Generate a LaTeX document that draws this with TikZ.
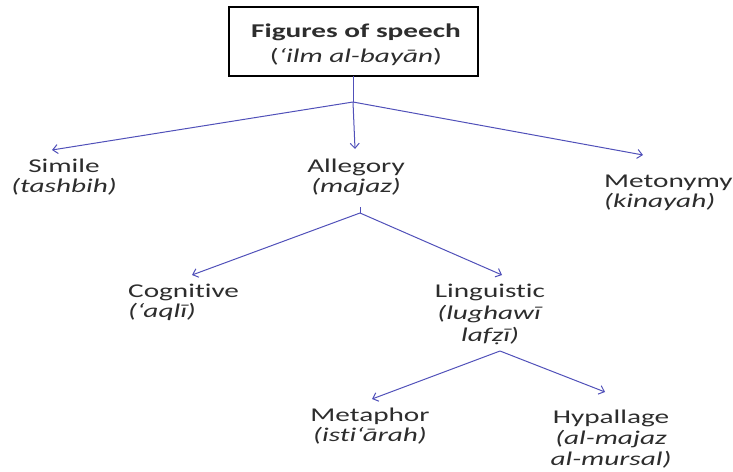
\documentclass[tikz,border=0pt]{standalone}
\usepackage{fontspec}
\setmainfont{Carlito}[FakeStretch=1.5,Ligatures={TeX,NoCommon}]
\usetikzlibrary{arrows.meta}
\definecolor{arr}{RGB}{80,80,185}
\definecolor{txt}{RGB}{45,45,45}
\begin{document}
\begin{tikzpicture}[x=1pt,y=-1pt,
  lbl/.style={align=center,anchor=base,inner sep=0pt,text=txt,font=\fontsize{19.5}{20}\selectfont},
  conn/.style={draw=arr,line width=1pt,-{Straight Barb[length=5pt,width=9pt]}},
  seg/.style={draw=arr,line width=1pt}]
\useasboundingbox (0,0) rectangle (733,471);
\draw[line width=1.3pt] (229,7) rectangle (478,76);
\node[lbl,font=\fontsize{19.5}{25}\selectfont] (fig) at (356,62)
  {\textbf{Figures of speech}\\(\textit{‘ilm al-bayān})};
\node[lbl] (sim) at (64,192) {Simile\\\textit{(tashbih)}};
\node[lbl] (all) at (356,192) {Allegory\\\textit{(majaz)}};
\node[lbl,align=left,anchor=base west] (met) at (604,207) {Metonymy\\\textit{(kinayah)}};
\node[lbl,align=left,anchor=base west] (cog) at (128,317) {Cognitive\\\textit{(‘aqlī)}};
\node[lbl,font=\fontsize{19.5}{22}\selectfont] (lin) at (490,341) {Linguistic\\\textit{(lughawī}\\\textit{lafẓī)}};
\node[lbl] (mph) at (370,441) {Metaphor\\\textit{(isti‘ārah)}};
\node[lbl,font=\fontsize{19.5}{21}\selectfont] (hyp) at (611,465) {Hypallage\\\textit{(al-majaz}\\\textit{al-mursal)}};
\coordinate (j0) at (353,76);
\coordinate (j1) at (353,102);
\coordinate (k2) at (360,207);
\coordinate (j2) at (360,213);
\coordinate (j3) at (500,351);
\coordinate (t1) at (52,150);
\coordinate (t2) at (355,149);
\coordinate (t3) at (643,155);
\coordinate (t4) at (192,275);
\coordinate (t5) at (502,275);
\coordinate (t6) at (372,399);
\coordinate (t7) at (605,392);
\draw[seg] (j0) -- (j1);
\draw[conn] (j1) -- (t1);
\draw[conn] (j1) -- (t2);
\draw[conn] (j1) -- (t3);
\draw[seg] (k2) -- (j2);
\draw[conn] (j2) -- (t4);
\draw[conn] (j2) -- (t5);
\draw[conn] (j3) -- (t6);
\draw[conn] (j3) -- (t7);
\end{tikzpicture}
\end{document}
